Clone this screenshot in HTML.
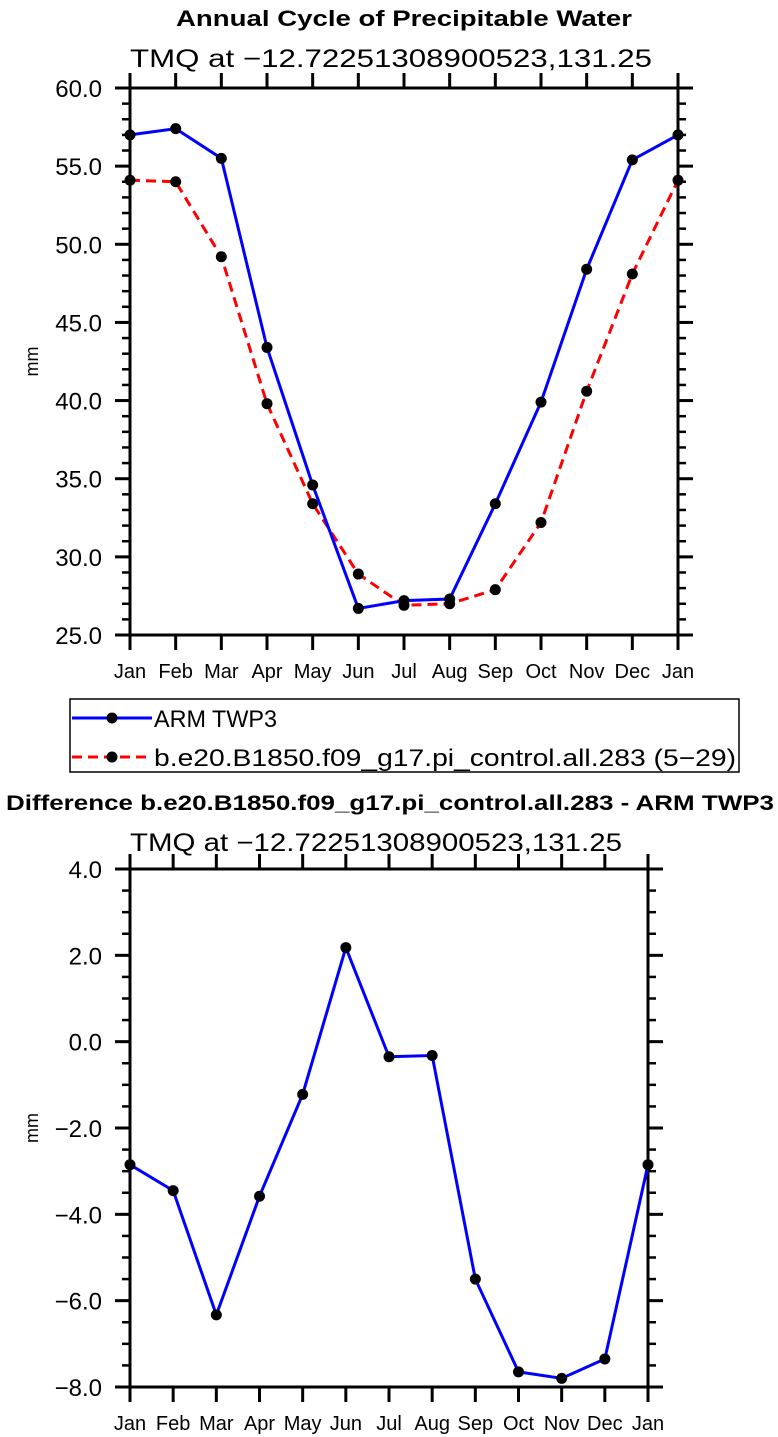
<!DOCTYPE html>
<html><head><meta charset="utf-8"><style>
html,body{margin:0;padding:0;background:#fff}
svg{display:block;font-family:"Liberation Sans",sans-serif}
</style></head><body>
<svg id="s" width="778" height="1437" viewBox="0 0 778 1437">
<text x="404" y="26" text-anchor="middle" font-size="22" font-weight="bold" textLength="456" lengthAdjust="spacingAndGlyphs">Annual Cycle of Precipitable Water</text>
<text x="391" y="67" text-anchor="middle" font-size="25" textLength="522" lengthAdjust="spacingAndGlyphs">TMQ at −12.72251308900523,131.25</text>
<text x="390" y="810" text-anchor="middle" font-size="21" font-weight="bold" textLength="768" lengthAdjust="spacingAndGlyphs">Difference b.e20.B1850.f09_g17.pi_control.all.283 - ARM TWP3</text>
<text x="376" y="851" text-anchor="middle" font-size="25" textLength="492" lengthAdjust="spacingAndGlyphs">TMQ at −12.72251308900523,131.25</text>
<g>
<rect x="70" y="699" width="669" height="73" fill="none" stroke="#000" stroke-width="1.5"/>
<g>
<line x1="72" y1="718" x2="152" y2="718" stroke="#00f" stroke-width="3"/>
<circle cx="112" cy="718" r="5.5"/>
<text x="154" y="727" font-size="24" textLength="123" lengthAdjust="spacingAndGlyphs">ARM TWP3</text></g>
<g>
<line x1="72" y1="757" x2="152" y2="757" stroke="#f00" stroke-width="3" stroke-dasharray="10,6"/>
<circle cx="112" cy="757" r="5.5"/>
<text x="154" y="766" font-size="24" textLength="582" lengthAdjust="spacingAndGlyphs">b.e20.B1850.f09_g17.pi_control.all.283 (5−29)</text></g>
</g>
<g id="p1"></g>
<g id="p2"></g>
</svg>
<script>
const months = ["Jan","Feb","Mar","Apr","May","Jun","Jul","Aug","Sep","Oct","Nov","Dec","Jan"];
const armValues = [57.0,57.4,55.5,43.4,34.6,26.7,27.2,27.3,33.4,39.9,48.4,55.4,57.0];
const modelValues = [54.1,54.0,49.2,39.8,33.4,28.9,26.9,27.0,27.9,32.2,40.6,48.1,54.1];
const diffValues = [-2.85,-3.45,-6.33,-3.58,-1.22,2.18,-0.35,-0.32,-5.5,-7.65,-7.8,-7.35,-2.85];
const topYTicks = [25,30,35,40,45,50,55,60];
const bottomYTicks = [-8,-6,-4,-2,0,2,4];
const NS="http://www.w3.org/2000/svg";
function mk(p,t,a){const e=document.createElementNS(NS,t);for(const k in a)e.setAttribute(k,a[k]);p.appendChild(e);return e;}
function plot(g,L,R,T,B,ymin,ymax,yticks,minorStep,series,namePrefix){
  const sx=i=>L+(R-L)*i/(months.length-1);
  const sy=v=>B-(B-T)*(v-ymin)/(ymax-ymin);
  const ax=mk(g,'g',{stroke:'#000','stroke-width':3});
  
  
  mk(ax,'rect',{x:L,y:T,width:R-L,height:B-T,fill:'none'});
  months.forEach((m,i)=>{const x=sx(i);
    mk(ax,'line',{x1:x,y1:B,x2:x,y2:B+15});mk(ax,'line',{x1:x,y1:T,x2:x,y2:T-15});
    const t=mk(g,'text',{x:x,y:B+43,'text-anchor':'middle','font-size':20});t.textContent=m;
    
    
  });
  for(let v=ymin;v<=ymax+1e-9;v+=minorStep){const y=sy(v);
    mk(ax,'line',{x1:L,y1:y,x2:L-8,y2:y,'stroke-width':2.5});mk(ax,'line',{x1:R,y1:y,x2:R+8,y2:y,'stroke-width':2.5});}
  yticks.forEach(v=>{const y=sy(v);
    mk(ax,'line',{x1:L,y1:y,x2:L-15,y2:y});mk(ax,'line',{x1:R,y1:y,x2:R+15,y2:y});
    const t=mk(g,'text',{x:L-28,y:y+9,'text-anchor':'end','font-size':24});t.textContent=v.toFixed(1).replace('-','−');
    
    
  });
  const yl=mk(g,'text',{x:0,y:0,'text-anchor':'middle','font-size':18,transform:`translate(38,${(T+B)/2}) rotate(-90)`});yl.textContent='mm';
  
  
  series.forEach(s=>{
    const pl=mk(g,'polyline',{points:s.v.map((v,i)=>sx(i)+','+sy(v)).join(' '),fill:'none',stroke:s.c,'stroke-width':3,'stroke-dasharray':s.d||'none'});
    
    
    s.v.forEach((v,i)=>{const c=mk(g,'circle',{cx:sx(i),cy:sy(v),r:5.5});
      
      });
  });
}
plot(document.getElementById('p1'),130,678,88,635,25,60,topYTicks,1,
  [{v:modelValues,c:'#f00',d:'10,6',n:'model'},{v:armValues,c:'#00f',n:'arm'}],'top');
plot(document.getElementById('p2'),130,648,869,1387,-8,4,bottomYTicks,0.5,
  [{v:diffValues,c:'#00f',n:'difference'}],'bottom');
</script>
</body></html>
